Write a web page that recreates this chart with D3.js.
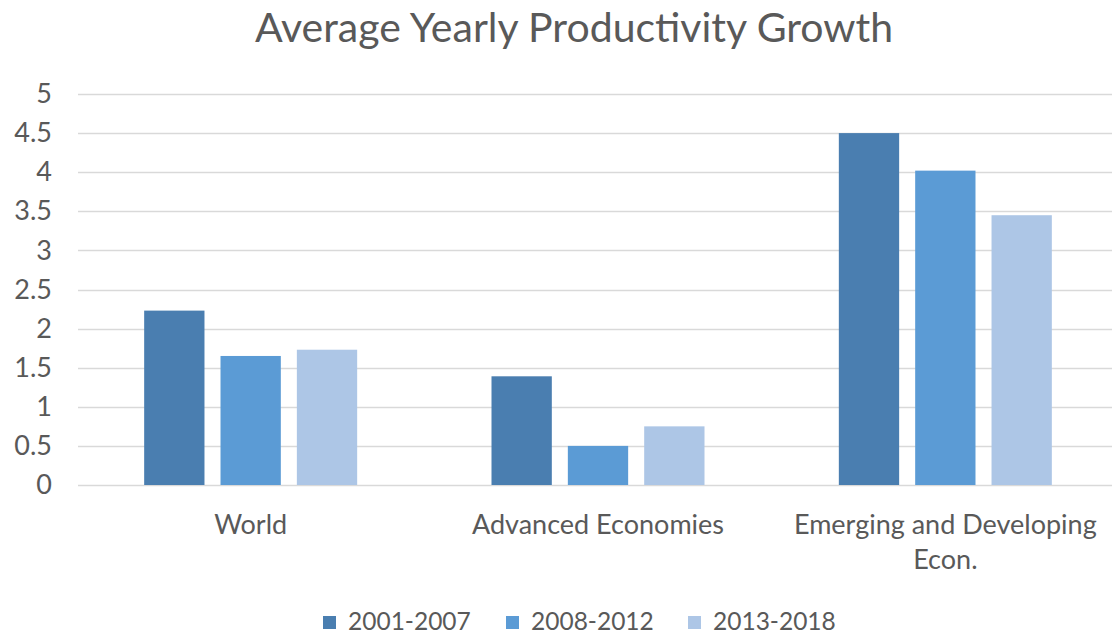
<!DOCTYPE html>
<html>
<head>
<meta charset="utf-8">
<script src="https://cdn.jsdelivr.net/npm/d3@7"></script>
<style>
  html, body { margin: 0; padding: 0; background: #fff; }
  svg { display: block; font-family: Lato, "Open Sans", sans-serif; }
</style>
</head>
<body>
<svg id="chart" width="1112" height="636"></svg>
<script>
const categories = ["World", "Advanced Economies", "Emerging and Developing Econ."];
const categoryLines = [["World"], ["Advanced Economies"], ["Emerging and Developing", "Econ."]];
const seriesNames = ["2001-2007", "2008-2012", "2013-2018"];
const values2001_2007 = [2.23, 1.39, 4.50];
const values2008_2012 = [1.65, 0.50, 4.02];
const values2013_2018 = [1.73, 0.75, 3.45];
const yTicks = [0, 0.5, 1, 1.5, 2, 2.5, 3, 3.5, 4, 4.5, 5];
const colors = ["#4a7eb0", "#5b9bd5", "#adc6e6"];

const seriesValues = [values2001_2007, values2008_2012, values2013_2018];
const svg = d3.select("#chart");
const textColor = "#595959";

const x0 = d3.scaleBand().domain(categories).range([77, 1119]).paddingInner(0).paddingOuter(0);
const groupWidth = 213;
const x1 = d3.scaleBand().domain(seriesNames).range([0, groupWidth]).paddingInner(0.21).paddingOuter(0);
const y = d3.scaleLinear().domain([0, 5]).range([485, 94]);

// title
svg.append("text").attr("x", 574).attr("y", 42).attr("text-anchor", "middle")
  .attr("fill", textColor).attr("font-size", 41).text("Average Yearly Productivity Growth");

// gridlines
svg.append("g").selectAll("line").data(yTicks).join("line")
  .attr("x1", 78).attr("x2", 1112)
  .attr("y1", d => Math.round(y(d)) + 0.5).attr("y2", d => Math.round(y(d)) + 0.5)
  .attr("stroke", "#d9d9d9").attr("stroke-width", 1.5);

// y axis labels
const yAxis = d3.axisLeft(y).tickValues(yTicks).tickSize(0).tickPadding(0).tickFormat(d3.format("~g"));
const gy = svg.append("g").attr("transform", "translate(52,0)").call(yAxis);
gy.select(".domain").remove();
gy.selectAll("text").attr("fill", textColor).attr("font-size", 27).attr("font-family", "Lato, 'Open Sans', sans-serif");

// bars
const groups = svg.append("g").selectAll("g").data(categories).join("g")
  .attr("transform", d => `translate(${x0(d) + (x0.bandwidth() - groupWidth) / 2},0)`);
groups.selectAll("rect").data((d, i) => seriesNames.map((s, j) => ({ s, v: seriesValues[j][i], j })))
  .join("rect")
  .attr("x", d => x1(d.s)).attr("width", x1.bandwidth())
  .attr("y", d => y(d.v)).attr("height", d => y(0) - y(d.v))
  .attr("fill", d => colors[d.j]);

// category labels
const cat = svg.append("g").selectAll("text").data(categories).join("text")
  .attr("x", d => x0(d) + x0.bandwidth() / 2)
  .attr("y", 534).attr("text-anchor", "middle").attr("fill", textColor).attr("font-size", 27);
cat.each(function(d, i) {
  d3.select(this).selectAll("tspan").data(categoryLines[i]).join("tspan")
    .attr("x", x0(d) + x0.bandwidth() / 2)
    .attr("dy", (t, k) => k === 0 ? 0 : 35)
    .text(t => t);
});

// legend
const legendX = [323, 506, 688];
const leg = svg.append("g").selectAll("g").data(seriesNames).join("g")
  .attr("transform", (d, i) => `translate(${legendX[i]},0)`);
leg.append("rect").attr("x", 0).attr("y", 616).attr("width", 13).attr("height", 13)
  .attr("fill", (d, i) => colors[i]);
leg.append("text").attr("x", 25).attr("y", 630).attr("fill", textColor).attr("font-size", 24.5).text(d => d);
</script>
</body>
</html>
